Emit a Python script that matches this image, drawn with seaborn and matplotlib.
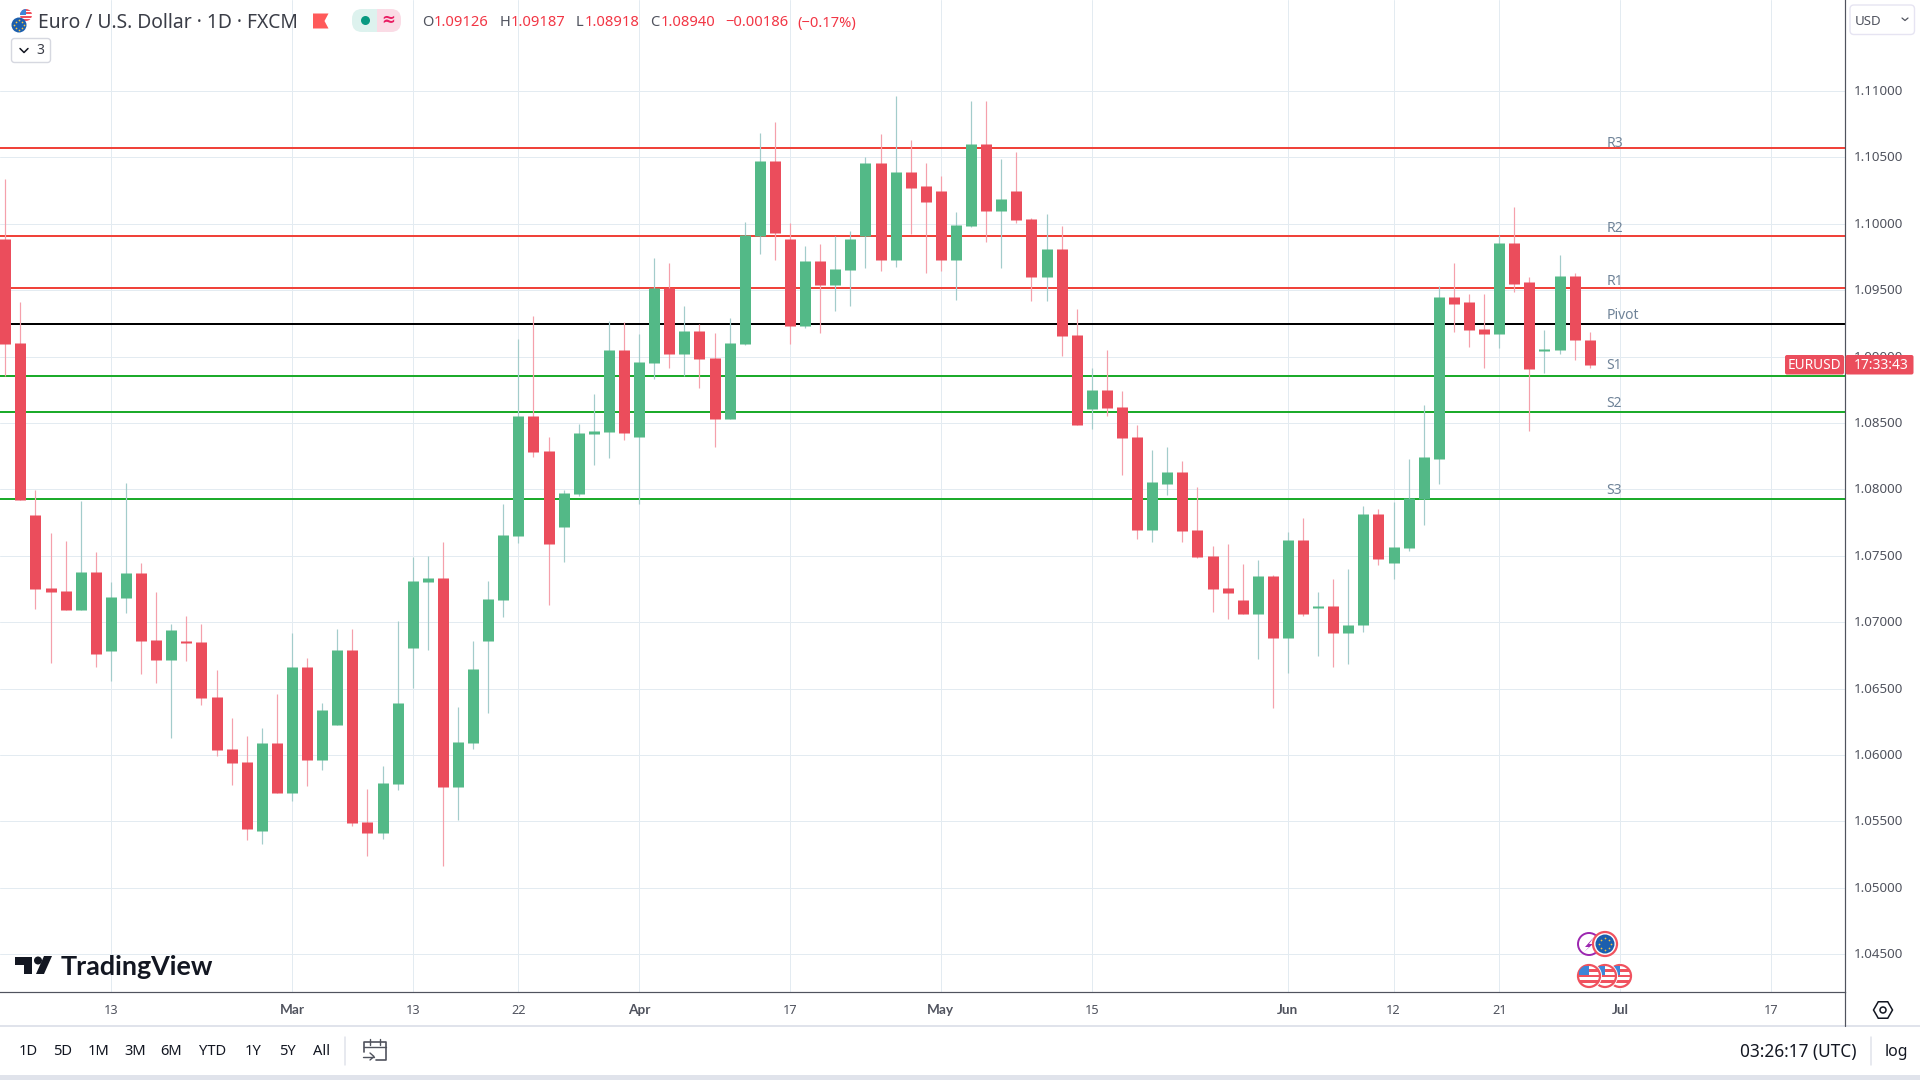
import numpy as np
import pandas as pd
import matplotlib
matplotlib.use("Agg")
import matplotlib.pyplot as plt
from matplotlib.patches import Circle, Rectangle, Polygon, FancyBboxPatch
from matplotlib.lines import Line2D
from matplotlib.transforms import ScaledTranslation
import seaborn as sns

# ---------- data ----------
candle_high = [
 1.10336,1.09410,1.07993,1.07671,1.07609,1.07913,1.07529,1.07302,1.08047,1.07444,
 1.07225,1.06987,1.07045,1.06987,1.06642,1.06281,1.06142,1.06204,1.06461,1.06918,
 1.06730,1.06392,1.06949,1.06949,1.05743,1.05916,1.07010,1.07490,1.07498,1.07602,
 1.06361,1.06857,1.07310,1.07890,1.09130,1.09303,1.08393,1.07997,1.08492,1.08719,
 1.09268,1.09260,1.09168,1.09740,1.09702,1.09380,1.09245,1.09176,1.09291,1.10013,
 1.10681,1.10766,1.10005,1.09833,1.09848,1.09906,1.09944,1.10505,1.10674,1.10962,
 1.10635,1.10455,1.10359,1.10086,1.10923,1.10923,1.10485,1.10539,1.10048,1.10071,
 1.09982,1.09356,1.08915,1.09049,1.08738,1.08485,1.08297,1.08320,1.08212,1.08016,
 1.07575,1.07590,1.07436,1.07467,1.07359,1.07682,1.07789,1.07225,1.07329,1.07399,
 1.07873,1.07850,1.07907,1.08233,1.08639,1.09530,1.09708,1.09469,1.09469,1.09916,
 1.10124,1.09597,1.09204,1.09768,1.09634,1.09187]
body_top = [
 1.09883,1.09103,1.07805,1.07256,1.07233,1.07379,1.07379,1.07191,1.07371,1.07371,
 1.06864,1.06941,1.06857,1.06849,1.06438,1.06046,1.05947,1.06092,1.06092,1.06661,
 1.06661,1.06338,1.06791,1.06791,1.05497,1.05789,1.06392,1.07310,1.07333,1.07333,
 1.06096,1.06649,1.07175,1.07655,1.08550,1.08550,1.08289,1.07974,1.08423,1.08439,
 1.09049,1.09049,1.08957,1.09514,1.09514,1.09191,1.09191,1.08988,1.09103,1.09913,
 1.10470,1.10470,1.09890,1.09717,1.09717,1.09660,1.09890,1.10462,1.10462,1.10389,
 1.10389,1.10282,1.10251,1.09990,1.10601,1.10601,1.10186,1.10244,1.10036,1.09810,
 1.09810,1.09161,1.08746,1.08746,1.08619,1.08393,1.08055,1.08132,1.08132,1.07694,
 1.07498,1.07256,1.07171,1.07346,1.07346,1.07618,1.07618,1.07120,1.07120,1.06983,
 1.07819,1.07819,1.07564,1.07934,1.08243,1.09452,1.09452,1.09409,1.09210,1.09859,
 1.09859,1.09560,1.09059,1.09604,1.09604,1.09126]
body_bottom = [
 1.09095,1.07920,1.07248,1.07225,1.07091,1.07091,1.06761,1.06784,1.07183,1.06857,
 1.06715,1.06715,1.06845,1.06430,1.06039,1.05939,1.05444,1.05428,1.05716,1.05716,
 1.05962,1.05962,1.06227,1.05490,1.05413,1.05413,1.05781,1.06807,1.07302,1.05758,
 1.05758,1.06092,1.06857,1.07168,1.07648,1.08281,1.07590,1.07717,1.07966,1.08416,
 1.08431,1.08423,1.08393,1.08949,1.09019,1.09019,1.08980,1.08531,1.08531,1.09095,
 1.09906,1.09929,1.09230,1.09230,1.09537,1.09537,1.09652,1.09906,1.09725,1.09725,
 1.10274,1.10163,1.09725,1.09725,1.09982,1.10094,1.10094,1.10028,1.09598,1.09598,
 1.09153,1.08485,1.08604,1.08612,1.08385,1.07694,1.07694,1.08039,1.07686,1.07490,
 1.07248,1.07221,1.07060,1.07060,1.06879,1.06879,1.07060,1.07104,1.06916,1.06916,
 1.06976,1.07473,1.07450,1.07557,1.07927,1.08233,1.09399,1.09204,1.09173,1.09173,
 1.09550,1.08911,1.09042,1.09052,1.09123,1.08940]
candle_low = [
 1.08853,1.07920,1.07099,1.06692,1.07091,1.07091,1.06661,1.06557,1.07068,1.06611,
 1.06542,1.06127,1.06707,1.06377,1.05993,1.05774,1.05359,1.05332,1.05716,1.05655,
 1.05766,1.05889,1.06227,1.05467,1.05240,1.05367,1.05735,1.06503,1.06791,1.05163,
 1.05513,1.06046,1.06315,1.07037,1.07598,1.08243,1.07129,1.07452,1.07951,1.08181,
 1.08235,1.08370,1.07890,1.08830,1.08915,1.08853,1.08761,1.08320,1.08531,1.09088,
 1.09771,1.09725,1.09095,1.09214,1.09176,1.09341,1.09380,1.09668,1.09644,1.09675,
 1.09921,1.09629,1.09644,1.09426,1.09975,1.09867,1.09671,1.10005,1.09418,1.09418,
 1.09003,1.08485,1.08454,1.08550,1.08108,1.07625,1.07602,1.07959,1.07602,1.07483,
 1.07076,1.07022,1.07060,1.06727,1.06351,1.06616,1.07050,1.06744,1.06667,1.06684,
 1.06926,1.07430,1.07329,1.07534,1.07735,1.08038,1.09184,1.09076,1.08918,1.09063,
 1.09486,1.08444,1.08874,1.09022,1.08972,1.08918]
candle_dir = list(
 "DDDDDUDUUD"
 "DUDDDDDUDU"
 "DUUDDUUUUD"
 "UUUUUDDUUU"
 "UDUUDUDDUU"
 "UDDUDUUUDU"
 "DDDUUDUDDU"
 "DDUDDDUUDD"
 "DDDUDUDUDU"
 "UDUUUUDDDU"
 "DDUUDD")

level_names = ["R3", "R2", "R1", "Pivot", "S1", "S2", "S3"]
level_values = [1.10574, 1.09906, 1.09514, 1.09245, 1.08853, 1.08581, 1.07928]
level_colors = ["#F0433A", "#F0433A", "#F0433A", "#000000", "#1CAB2B", "#1CAB2B", "#1CAB2B"]

price_ticks = [1.045, 1.05, 1.055, 1.06, 1.065, 1.07, 1.075, 1.08, 1.085, 1.09,
               1.095, 1.10, 1.105, 1.11]
date_tick_bars = [7, 19, 27, 34, 42, 52, 62, 72, 85, 92, 99, 107, 117]
date_tick_labels = ["13", "Mar", "13", "22", "Apr", "17", "May", "15", "Jun", "12", "21", "Jul", "17"]
month_labels = {"Mar", "Apr", "May", "Jun", "Jul"}
range_buttons = ["1D", "5D", "1M", "3M", "6M", "YTD", "1Y", "5Y", "All"]

# ---------- setup ----------
W, H = 1920, 1080
sns.set_theme(style="white")
plt.rcParams["font.family"] = ["Noto Sans", "DejaVu Sans"]
px = 0.72  # one pixel in points at dpi 100

UP, DOWN = "#53B987", "#EB4D5C"
UP_WICK, DOWN_WICK = "#A3CCCB", "#F5A0AB"
GRID = "#E3EBF1"
DARK = "#50535E"
TXT = "#131722"

fig = plt.figure(figsize=(W / 100, H / 100), dpi=100, facecolor="white")
AX_R, AX_B = 1845, 992
ax = fig.add_axes([0, 1 - AX_B / H, AX_R / W, AX_B / H])

# ---------- candles ----------
bars = np.arange(len(candle_high))
wicks = pd.DataFrame({
    "bar": np.r_[bars, bars],
    "price": np.r_[candle_low, candle_high],
    "dir": candle_dir * 2,
})
bodies = pd.DataFrame({
    "bar": np.r_[bars, bars],
    "price": np.r_[body_bottom, body_top],
    "dir": candle_dir * 2,
})
sns.lineplot(data=wicks, x="bar", y="price", units="bar", hue="dir", estimator=None,
             palette={"U": UP_WICK, "D": DOWN_WICK}, linewidth=1.2 * px, legend=False,
             sort=False, solid_capstyle="butt", zorder=3, ax=ax)
sns.lineplot(data=bodies, x="bar", y="price", units="bar", hue="dir", estimator=None,
             palette={"U": UP, "D": DOWN}, linewidth=11 * px, legend=False,
             sort=False, solid_capstyle="butt", zorder=4, ax=ax)

# ---------- levels ----------
label_shift_pts = {"R3": -2.25, "R2": -0.05, "R1": -0.65, "Pivot": 0.65, "S1": 2.15, "S2": 0.65, "S3": 0.65}
for name, val, col in zip(level_names, level_values, level_colors):
    ax.axhline(val, color=col, lw=2 * px, zorder=2)
    ax.annotate(name, xy=(106.1, val), xytext=(0, label_shift_pts[name]), textcoords="offset points",
                ha="left", va="bottom", fontsize=10.0, color="#6F8398", zorder=5)

# ---------- axes ----------
ax.set_xlim((0 - 5.3) / 15.09, (AX_R - 5.3) / 15.09)
ax.set_ylim(1.04216, 1.11686)
ax.set_xlabel("")
ax.set_ylabel("")
ax.set_xticks(date_tick_bars)
ax.set_xticklabels(date_tick_labels)
ax.yaxis.tick_right()
ax.set_yticks(price_ticks)
ax.set_yticklabels([f"{p:.5f}" for p in price_ticks])
ax.grid(True, color=GRID, lw=1 * px, zorder=0)
ax.set_axisbelow(True)
ax.tick_params(axis="y", length=0, pad=6.6, labelsize=9.6, labelcolor=DARK)
ax.tick_params(axis="x", length=0, pad=15.8, labelsize=9.2, labelcolor=DARK)
up_1px = ScaledTranslation(0, 1 / 100, fig.dpi_scale_trans)
for lab in ax.get_yticklabels():
    lab.set_transform(lab.get_transform() + up_1px)
for lab in ax.get_xticklabels():
    lab.set_va("baseline")
    if lab.get_text() in month_labels:
        lab.set_family(["Lato", "DejaVu Sans"])
        lab.set_fontweight("bold")
        lab.set_fontsize(9.8)
for s in ("top", "left"):
    ax.spines[s].set_visible(False)
for s in ("right", "bottom"):
    ax.spines[s].set_color(DARK)
    ax.spines[s].set_linewidth(1.2 * px)

# ---------- overlay chrome (pixel coordinates) ----------
ov = fig.add_axes([0, 0, 1, 1], zorder=10)
ov.set_xlim(0, W)
ov.set_ylim(H, 0)
ov.axis("off")
ov.patch.set_alpha(0)


def T(x, y, s, size=10.0, color=TXT, ha="left", weight="normal", **kw):
    return ov.text(x, y, s, fontsize=size, color=color, ha=ha, va="center",
                   fontweight=weight, **kw)


# footer
ov.add_line(Line2D([0, W], [1026, 1026], color="#E0E3EB", lw=2 * px))
ov.add_line(Line2D([AX_R, AX_R], [992, 1026], color=DARK, lw=1.2 * px))
ov.add_patch(Rectangle((0, 1075), W, 5, color="#E0E3EB", lw=0))
ov.add_line(Line2D([345, 345], [1037, 1065], color="#E0E3EB", lw=1.5 * px))
ov.add_line(Line2D([1871, 1871], [1037, 1065], color="#E0E3EB", lw=1.5 * px))
for lab, cx in zip(range_buttons, [28, 62.7, 98.7, 135, 171, 212.7, 253, 287, 321.7]):
    T(cx, 1051.5, lab, size=10.6, ha="center")
T(1798.5, 1051.5, "03:26:17 (UTC)", size=12.4, ha="center")
T(1896, 1051.5, "log", size=11.4, ha="center")

# calendar icon
ov.add_line(Line2D([364, 364, 386, 386, 376], [1052, 1042, 1042, 1060, 1060], color=DARK, lw=1.2))
ov.add_line(Line2D([364, 386], [1047, 1047], color=DARK, lw=1.0))
for xx in (370, 380):
    ov.add_line(Line2D([xx, xx], [1039, 1045], color=DARK, lw=1.0))
ov.add_line(Line2D([363, 374], [1056.5, 1056.5], color=DARK, lw=1.0))
ov.add_line(Line2D([370, 374, 370], [1053, 1056.5, 1060], color=DARK, lw=1.0))

# settings hexagon
ang = np.deg2rad(np.arange(0, 360, 60))
ov.add_patch(Polygon(np.c_[1883 + 9.5 * np.cos(ang), 1010 + 9.5 * np.sin(ang)], closed=True,
                     fill=False, ec="#131722", lw=1.1))
ov.add_patch(Circle((1883, 1010), 3, fill=False, ec="#131722", lw=1.1))

# TradingView logo
ov.add_patch(Polygon([(15, 956.5), (32, 956.5), (32, 974), (23.5, 974), (23.5, 964.5), (15, 964.5)],
                     closed=True, color=TXT, lw=0))
ov.add_patch(Circle((38, 960.5), 4, color=TXT, lw=0))
ov.add_patch(Polygon([(44, 956), (52, 956), (44, 974), (36, 974)], closed=True, color=TXT, lw=0))
T(61, 967, "TradingView", size=19.4, weight="bold", family=["Lato", "DejaVu Sans"])

# price tag
ov.add_patch(FancyBboxPatch((1785, 355), 59, 19.5, boxstyle="round,pad=0,rounding_size=2",
                            fc=DOWN, ec="none"))
ov.add_patch(FancyBboxPatch((1845.5, 355), 68, 19.5, boxstyle="round,pad=0,rounding_size=2",
                            fc=DOWN, ec="none"))
T(1814.5, 365.5, "EURUSD", size=9.8, color="white", ha="center")
T(1881.5, 365.5, "17:33:43", size=10, color="white", ha="center")

# header
T(38, 23, "Euro / U.S. Dollar · 1D · FXCM", size=13.9, color="#3A3D47")
ov.add_patch(Polygon([(313, 13.5), (328.5, 13.5), (324.5, 21), (328.5, 28.5), (313, 28.5)],
                     closed=True, color="#FF5A5A", lw=0))
ov.add_patch(FancyBboxPatch((352, 9), 24.5, 23, boxstyle="round,pad=0,rounding_size=10",
                            fc="#DDF2EE", ec="none"))
ov.add_patch(FancyBboxPatch((376.5, 9), 24.5, 23, boxstyle="round,pad=0,rounding_size=10",
                            fc="#FADBE5", ec="none"))
ov.add_patch(Rectangle((368, 9), 8.5, 23, fc="#DDF2EE", lw=0))
ov.add_patch(Rectangle((376.5, 9), 8.5, 23, fc="#FADBE5", lw=0))
ov.add_patch(Circle((365.5, 20.5), 4.5, color="#089981", lw=0))
T(388, 20.5, "≈", size=12, color="#E91E63", ha="center", weight="bold")
RED = "#F23645"
for x, s, c in [(422, "O", DARK), (433.5, "1.09126", RED), (499.5, "H", DARK), (510.5, "1.09187", RED),
                (576, "L", DARK), (584.5, "1.08918", RED), (650, "C", DARK), (661, "1.08940", RED),
                (725, "−0.00186", RED), (797, "(−0.17%)", RED)]:
    T(x, 23, s, size=10.6, color=c)

# collapsed-indicator button
ov.add_patch(FancyBboxPatch((11.5, 38.5), 39, 24, boxstyle="round,pad=0,rounding_size=3",
                            fc="white", ec="#D6D8E0", lw=1))
ov.add_line(Line2D([20, 24, 28], [48.5, 52.5, 48.5], color=TXT, lw=1.1))
T(40, 50.5, "3", size=10, color="#3A3D47", ha="center")

# currency button
ov.add_patch(FancyBboxPatch((1850, 5), 64.5, 29.5, boxstyle="round,pad=0,rounding_size=4",
                            fc="white", ec="#E6E4F2", lw=1))
T(1855, 21.5, "USD", size=9.6, color=DARK)
ov.add_line(Line2D([1902, 1905, 1908], [18, 20.5, 18], color=DARK, lw=0.9))

# flag icons
def us_flag(cx, cy, r, z=21):
    base = Circle((cx, cy), r, fc="white", ec="none", zorder=z)
    ov.add_patch(base)
    for k in range(0, 4):
        st = Rectangle((cx - r, cy - r + 2 * k * r / 3.5), 2 * r, r / 3.5, fc="#F0525F", lw=0, zorder=z)
        ov.add_patch(st)
        st.set_clip_path(base)
    can = Rectangle((cx - r, cy - r), r, r, fc="#3D85D8", lw=0, zorder=z + 0.1)
    ov.add_patch(can)
    can.set_clip_path(base)


def eu_flag(cx, cy, r, ring=None, z=25):
    if ring:
        ov.add_patch(Circle((cx, cy), r + 2.5, fc="white", ec=ring, lw=1.6, zorder=z))
    ov.add_patch(Circle((cx, cy), r, fc="#1B5EAD", ec="none", zorder=z + 1))
    t = np.deg2rad(np.arange(0, 360, 45))
    ov.scatter(cx + 0.62 * r * np.cos(t), cy + 0.62 * r * np.sin(t), s=1.5, color="#F5C542",
               lw=0, zorder=z + 2)


us_flag(26, 15, 6, z=21)
eu_flag(19, 25, 7.5, z=25)

ov.add_patch(Circle((1589, 944), 11, fc="white", ec="#9C27B0", lw=1.4, zorder=19))
ov.add_patch(Polygon([(1594, 937), (1585, 947), (1589, 947), (1584, 952), (1593, 944), (1589, 944)],
                     closed=True, color="#9C27B0", lw=0, zorder=19))
eu_flag(1605, 944, 9.5, ring="#F0525F", z=23)
for cx in (1620, 1605, 1589):
    ov.add_patch(Circle((cx, 976), 13, fc="white", ec="none", zorder=19 + (1620 - cx) / 10))
    us = Circle((cx, 976), 11, fc="white", ec="#F0525F", lw=1.6, zorder=19.5 + (1620 - cx) / 10)
    ov.add_patch(us)
    z0 = 19.6 + (1620 - cx) / 10
    for yy in (970.5, 976, 981.5):
        st = Rectangle((cx - 10, yy - 1.4), 20, 2.8, fc="#F0525F", lw=0, zorder=z0)
        ov.add_patch(st)
        st.set_clip_path(us)
    can = Rectangle((cx - 10, 966), 10, 9, fc="#3D85D8", lw=0, zorder=z0 + 0.01)
    ov.add_patch(can)
    can.set_clip_path(us)

fig.savefig("out.png", dpi=100)
